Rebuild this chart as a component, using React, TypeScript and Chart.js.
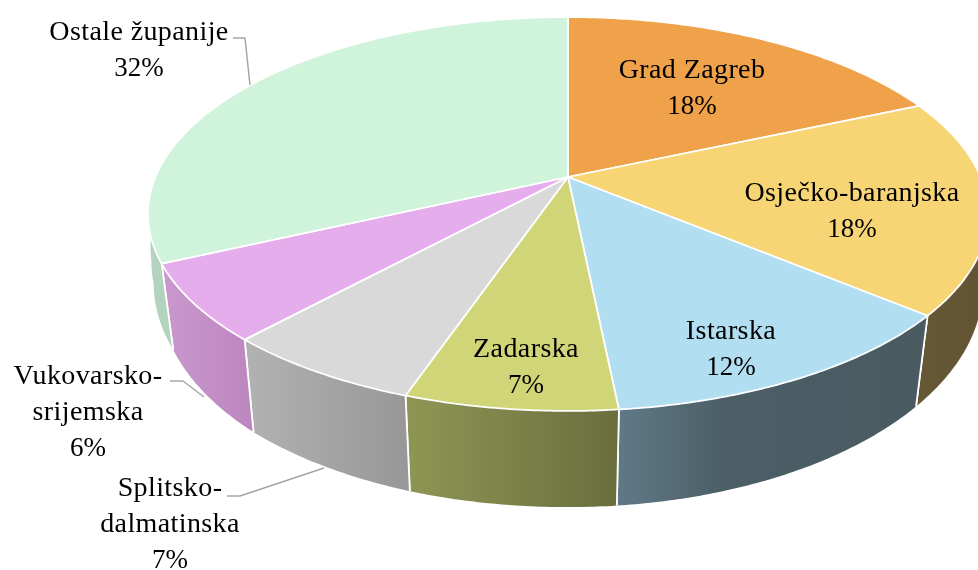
import React, { useEffect, useRef } from "react";
import { Chart, registerables } from "chart.js";

Chart.register(...registerables);

const categories = ["Grad Zagreb", "Osječko-baranjska", "Istarska", "Zadarska", "Splitsko-dalmatinska", "Vukovarsko-srijemska", "Ostale županije"];
const shares = [18.4, 17.7, 12.3, 6.85, 6.55, 6.3, 31.9];
const labelLines = [["Grad Zagreb"], ["Osječko-baranjska"], ["Istarska"], ["Zadarska"], ["Splitsko-", "dalmatinska"], ["Vukovarsko-", "srijemska"], ["Ostale županije"]];

const topColors = ["#EFA249", "#F7D575", "#B1DEF1", "#D0D678", "#D9D9D9", "#E6ADEC", "#D0F3DC"];
const wallStops: string[][] = [
  ["#6B5230", "#6B5230"],
  ["#665736", "#625433"],
  ["#5F7A87", "#4B5E66", "#4A5A61"],
  ["#8F9654", "#6A6E3D"],
  ["#B2B2B2", "#979797"],
  ["#C998CC", "#BC86BF"],
  ["#B3D3BE", "#B3D3BE"],
];
const labelAnchors = [
  [692, 71], [852, 194], [731, 332], [526, 350], [170, 489], [88, 377], [139, 33],
];
const leaders = [
  [[233, 38], [245, 38], [250, 85]],
  [[170, 381], [183, 381], [204, 397]],
  [[227, 496], [240, 496], [324, 468]],
];
// Small horizontal corrections of the lower rim, by angle in degrees (lens distortion of the 3D view).
const rimAngles = [90, 175, 198, 222, 245, 262, 268, 275];
const rimShift = [0.5, 0.5, -3.5, -3.5, 2, 0, -5, -14];

const NAME_FONT = "28px 'Liberation Serif'";
const PCT_FONT = "27px 'Liberation Serif'";
const LINE = 36;

const shiftAt = (t: number) => {
  const d = (t * 180) / Math.PI;
  if (d <= rimAngles[0]) return rimShift[0];
  for (let i = 1; i < rimAngles.length; i++) {
    if (d <= rimAngles[i]) {
      const f = (d - rimAngles[i - 1]) / (rimAngles[i] - rimAngles[i - 1]);
      return rimShift[i - 1] + f * (rimShift[i] - rimShift[i - 1]);
    }
  }
  return rimShift[rimShift.length - 1];
};

const pie3d = {
  id: "pie3d",
  beforeDatasetDraw(chart: any) {
    const ctx = chart.ctx;
    const arcs = chart.getDatasetMeta(0).data;
    const top = (a: any, t: number) => {
      const u = Math.sin(t), v = Math.cos(t), R = a.outerRadius, w = 1 + 0.1878 * v;
      return [a.x + (R * 2.3305 * u) / w, a.y - (R * 1.0734 * v) / w];
    };
    const bot = (a: any, t: number) => {
      const u = Math.sin(t), v = Math.cos(t), R = a.outerRadius, w = 1 + 0.15 * v;
      return [a.x + shiftAt(t) + (R * 2.3147 * u) / w, a.y + R * 0.4294 - (R * 1.2203 * v) / w];
    };
    const sample = (s: number, e: number) => {
      const out: number[] = [];
      const n = Math.max(2, Math.ceil((e - s) / 0.01));
      for (let i = 0; i <= n; i++) out.push(s + ((e - s) * i) / n);
      return out;
    };
    const lo = Math.PI / 2, hi = (275 * Math.PI) / 180;
    arcs.forEach((a: any, i: number) => {
      const s0 = a.startAngle + Math.PI / 2, e0 = a.endAngle + Math.PI / 2;
      const s = Math.max(s0, lo), e = Math.min(e0, hi);
      if (e <= s) return;
      const ts = sample(s, e);
      const tp = ts.map((t) => top(a, t));
      const bp = ts.map((t) => bot(a, t));
      const xs = [...tp, ...bp].map((p) => p[0]);
      const g = ctx.createLinearGradient(Math.min(...xs), 0, Math.max(...xs), 0);
      wallStops[i].forEach((c, k) => g.addColorStop(k === 0 ? 0 : k === wallStops[i].length - 1 ? 1 : 0.35, c));
      ctx.beginPath();
      tp.forEach((p, k) => (k ? ctx.lineTo(p[0], p[1]) : ctx.moveTo(p[0], p[1])));
      [...bp].reverse().forEach((p) => ctx.lineTo(p[0], p[1]));
      ctx.closePath();
      ctx.fillStyle = g;
      ctx.fill();
      ctx.strokeStyle = "#FFFFFF";
      ctx.lineWidth = 1.75;
      if (s === s0) {
        ctx.beginPath(); ctx.moveTo(tp[0][0], tp[0][1]); ctx.lineTo(bp[0][0], bp[0][1]); ctx.stroke();
      }
      if (e === e0) {
        const l = ts.length - 1;
        ctx.beginPath(); ctx.moveTo(tp[l][0], tp[l][1]); ctx.lineTo(bp[l][0], bp[l][1]); ctx.stroke();
      }
    });
    arcs.forEach((a: any, i: number) => {
      const ts = sample(a.startAngle + Math.PI / 2, a.endAngle + Math.PI / 2);
      ctx.beginPath();
      ctx.moveTo(a.x, a.y);
      ts.forEach((t) => { const p = top(a, t); ctx.lineTo(p[0], p[1]); });
      ctx.closePath();
      ctx.fillStyle = topColors[i];
      ctx.fill();
      ctx.strokeStyle = "#FFFFFF";
      ctx.lineWidth = 1.75;
      ctx.lineJoin = "round";
      ctx.stroke();
    });
    return false;
  },
  afterDatasetsDraw(chart: any) {
    const ctx = chart.ctx;
    ctx.save();
    ctx.strokeStyle = "#A6A6A6";
    ctx.lineWidth = 1.5;
    leaders.forEach((l) => {
      ctx.beginPath();
      l.forEach((p, k) => (k ? ctx.lineTo(p[0], p[1]) : ctx.moveTo(p[0], p[1])));
      ctx.stroke();
    });
    const total = shares.reduce((x, y) => x + y, 0);
    ctx.fillStyle = "#000000";
    ctx.textAlign = "center";
    ctx.textBaseline = "middle";
    categories.forEach((_, i) => {
      const names = labelLines[i];
      const y0 = labelAnchors[i][1], x0 = labelAnchors[i][0];
      ctx.font = NAME_FONT;
      ctx.letterSpacing = "0.4px";
      names.forEach((t, k) => ctx.fillText(t, x0, y0 + k * LINE));
      ctx.font = PCT_FONT;
      ctx.letterSpacing = "0px";
      ctx.fillText(Math.round((shares[i] / total) * 100) + "%", x0, y0 + names.length * LINE);
    });
    ctx.restore();
  },
};

export default function App() {
  const ref = useRef<HTMLCanvasElement>(null);
  useEffect(() => {
    const chart = new Chart(ref.current!, {
      type: "pie",
      data: { labels: categories, datasets: [{ data: shares, backgroundColor: topColors, borderWidth: 0 }] },
      options: {
        animation: false,
        responsive: false,
        layout: { padding: { left: 158, bottom: 216, right: 0, top: 0 } },
        plugins: { legend: { display: false }, tooltip: { enabled: false } },
      },
      plugins: [pie3d],
    } as any);
    return () => chart.destroy();
  }, []);
  return (
    <div style={{ position: "fixed", left: 0, top: 0, width: 978, height: 570, background: "#fff", overflow: "hidden" }}>
      <canvas ref={ref} width={978} height={570} style={{ display: "block" }} />
    </div>
  );
}
